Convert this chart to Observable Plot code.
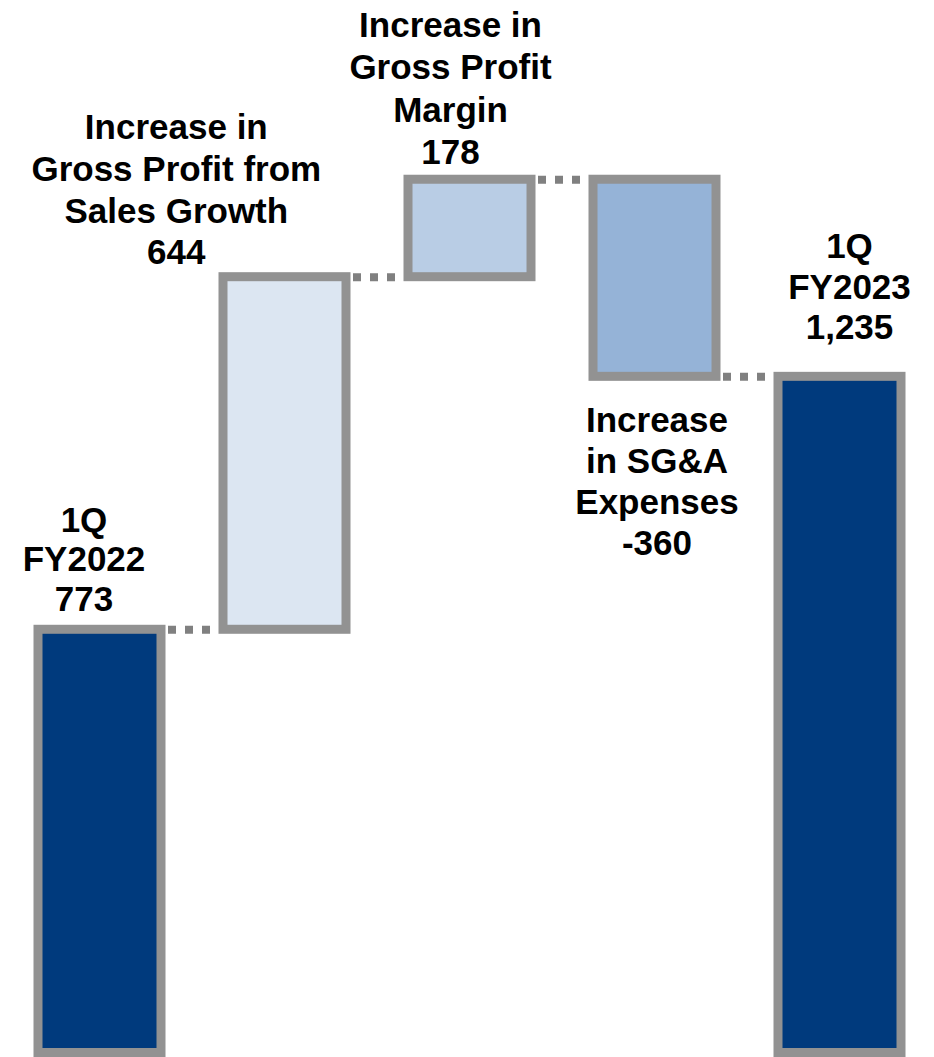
<!DOCTYPE html>
<html>
<head>
<meta charset="utf-8">
<script src="https://cdn.jsdelivr.net/npm/d3@7"></script>
<script src="https://cdn.jsdelivr.net/npm/@observablehq/plot@0.6"></script>
<style>
  html, body { margin: 0; padding: 0; background: #fff; }
</style>
</head>
<body>
<div id="chart"></div>
<script>
// ---- data ----
const categories = ["1Q FY2022", "Sales Growth", "Gross Profit Margin", "SG&A Expenses", "1Q FY2023"];
const names = ["1Q\nFY2022", "Increase in\nGross Profit from\nSales Growth", "Increase in\nGross Profit\nMargin", "Increase\nin SG&A\nExpenses", "1Q\nFY2023"];
const values = [773, 644, 178, -360, 1235];
const kinds = ["total", "delta", "delta", "delta", "total"];
const barColors = ["#003A7D", "#DCE6F2", "#B9CDE5", "#95B3D7", "#003A7D"];

// build waterfall table
const fmt = (v) => d3.format(",")(v).replace("\u2212", "-");
let run = 0;
const rows = categories.map((c, i) => {
  let y1, y2;
  if (kinds[i] === "total") { y1 = 0; y2 = values[i]; run = values[i]; }
  else { y1 = run; y2 = run + values[i]; run = y2; }
  return {cat: c, y1, y2, top: Math.max(y1, y2), bottom: Math.min(y1, y2), end: y2,
          label: names[i] + "\n" + fmt(values[i])};
});
const links = rows.slice(0, -1).map((r, i) => ({from: r.cat, to: rows[i + 1].cat, y: r.end}));

const font = "'Liberation Sans', Arial, Helvetica, sans-serif";
const labelMark = (i, y, dx, dy, lh) => Plot.text([rows[i]], {
  x: "cat", y, text: "label", dx, dy, lineAnchor: "bottom", lineHeight: lh,
  fontSize: 35, fontWeight: "bold", fontFamily: font, fill: "#000"
});

const chart = Plot.plot({
  width: 934,
  height: 1057,
  marginLeft: 37.5,
  marginRight: 31.3,
  marginTop: 12.25,
  marginBottom: 4.5,
  x: {domain: categories, paddingInner: 0.333, paddingOuter: 0, axis: null},
  y: {domain: [0, 1900], axis: null},
  color: {domain: categories, range: barColors},
  marks: [
    Plot.ruleY(links, {
      y: "y", x1: "to", x2: "from", insetLeft: -13, insetRight: -7,
      stroke: "#808080", strokeWidth: 8, strokeDasharray: "8,9"
    }),
    Plot.barY(rows, {x: "cat", y1: "y1", y2: "y2", fill: "cat", stroke: "#929292", strokeWidth: 9}),
    labelMark(0, "top", -16, -19, 1.13),
    labelMark(1, "top", -108.7, -13, 1.19),
    labelMark(2, "top", -19.5, -15.7, 1.21),
    labelMark(3, "bottom", 2, 178.5, 1.17),
    labelMark(4, "top", 9.5, -37.5, 1.16)
  ]
});
document.getElementById("chart").appendChild(chart);
</script>
</body>
</html>
